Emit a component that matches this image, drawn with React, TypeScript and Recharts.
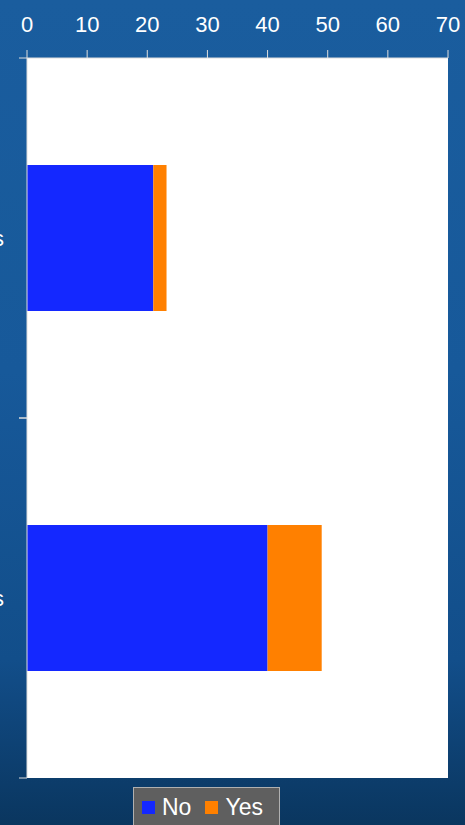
import { BarChart, Bar, XAxis, YAxis, CartesianGrid } from 'recharts';

const categories = ['Females', 'Males'];
const noValues = [21, 40];
const yesValues = [2.2, 9];
const xTicks = [0, 10, 20, 30, 40, 50, 60, 70];

const seriesNames = ['No', 'Yes'];
const seriesColors = ['#1428FF', '#FF8000'];

const data = categories.map((name, i) => ({
  name,
  No: noValues[i],
  Yes: yesValues[i],
}));

const FONT = '"Liberation Sans", Arial, sans-serif';

// category label at the band centre, tick marks at the band edges
function CategoryTick(props: any) {
  const { x, y, payload } = props;
  const axisX = x + 23;
  const half = payload.offset || 0;
  return (
    <g>
      <text x={x} y={y} dy="0.35em" textAnchor="end" fill="#fff" fontSize={22} fontFamily={FONT}>
        {payload.value}
      </text>
      <line x1={axisX - 8} x2={axisX} y1={y - half} y2={y - half} stroke="#ddd" />
      <line x1={axisX - 8} x2={axisX} y1={y + half} y2={y + half} stroke="#ddd" />
    </g>
  );
}

export default function App() {
  return (
    <div
      style={{
        position: 'absolute',
        left: 0,
        top: 0,
        width: 465,
        height: 825,
        overflow: 'hidden',
        background: 'linear-gradient(180deg, #1a5d9e 0%, #17599a 45%, #124e8a 80%, #0a365f 100%)',
        fontFamily: FONT,
      }}
    >
      <BarChart
        width={465}
        height={825}
        data={data}
        layout="vertical"
        margin={{ top: 0, right: 17, bottom: 47, left: 0 }}
        barCategoryGap="29.7%"
      >
        <CartesianGrid fill="#fff" horizontal={false} vertical={false} />
        <XAxis
          type="number"
          orientation="top"
          domain={[0, 70]}
          ticks={xTicks}
          height={58}
          stroke="#ddd"
          tickSize={8}
          tickMargin={18}
          tick={{ fill: '#fff', fontSize: 22, fontFamily: FONT }}
          interval={0}
        />
        <YAxis
          type="category"
          dataKey="name"
          width={27}
          stroke="#ddd"
          tickLine={false}
          tickMargin={23}
          tickSize={0}
          tick={<CategoryTick />}
        />
        {seriesNames.map((s, i) => (
          <Bar key={s} dataKey={s} stackId="a" fill={seriesColors[i]} isAnimationActive={false} />
        ))}
      </BarChart>
      <div
        style={{
          position: 'absolute',
          left: 133,
          top: 787,
          width: 147,
          height: 44,
          background: '#5f5f5f',
          border: '1px solid #b0b0b0',
          display: 'flex',
          alignItems: 'flex-start',
          paddingTop: 6,
          boxSizing: 'border-box',
        }}
      >
        {seriesNames.map((s, i) => (
          <div key={s} style={{ display: 'flex', alignItems: 'center', marginLeft: i === 0 ? 8 : 14 }}>
            <span style={{ width: 13, height: 13, background: seriesColors[i], display: 'inline-block' }} />
            <span style={{ color: '#fff', fontSize: 23, marginLeft: 7, lineHeight: '26px' }}>{s}</span>
          </div>
        ))}
      </div>
    </div>
  );
}
